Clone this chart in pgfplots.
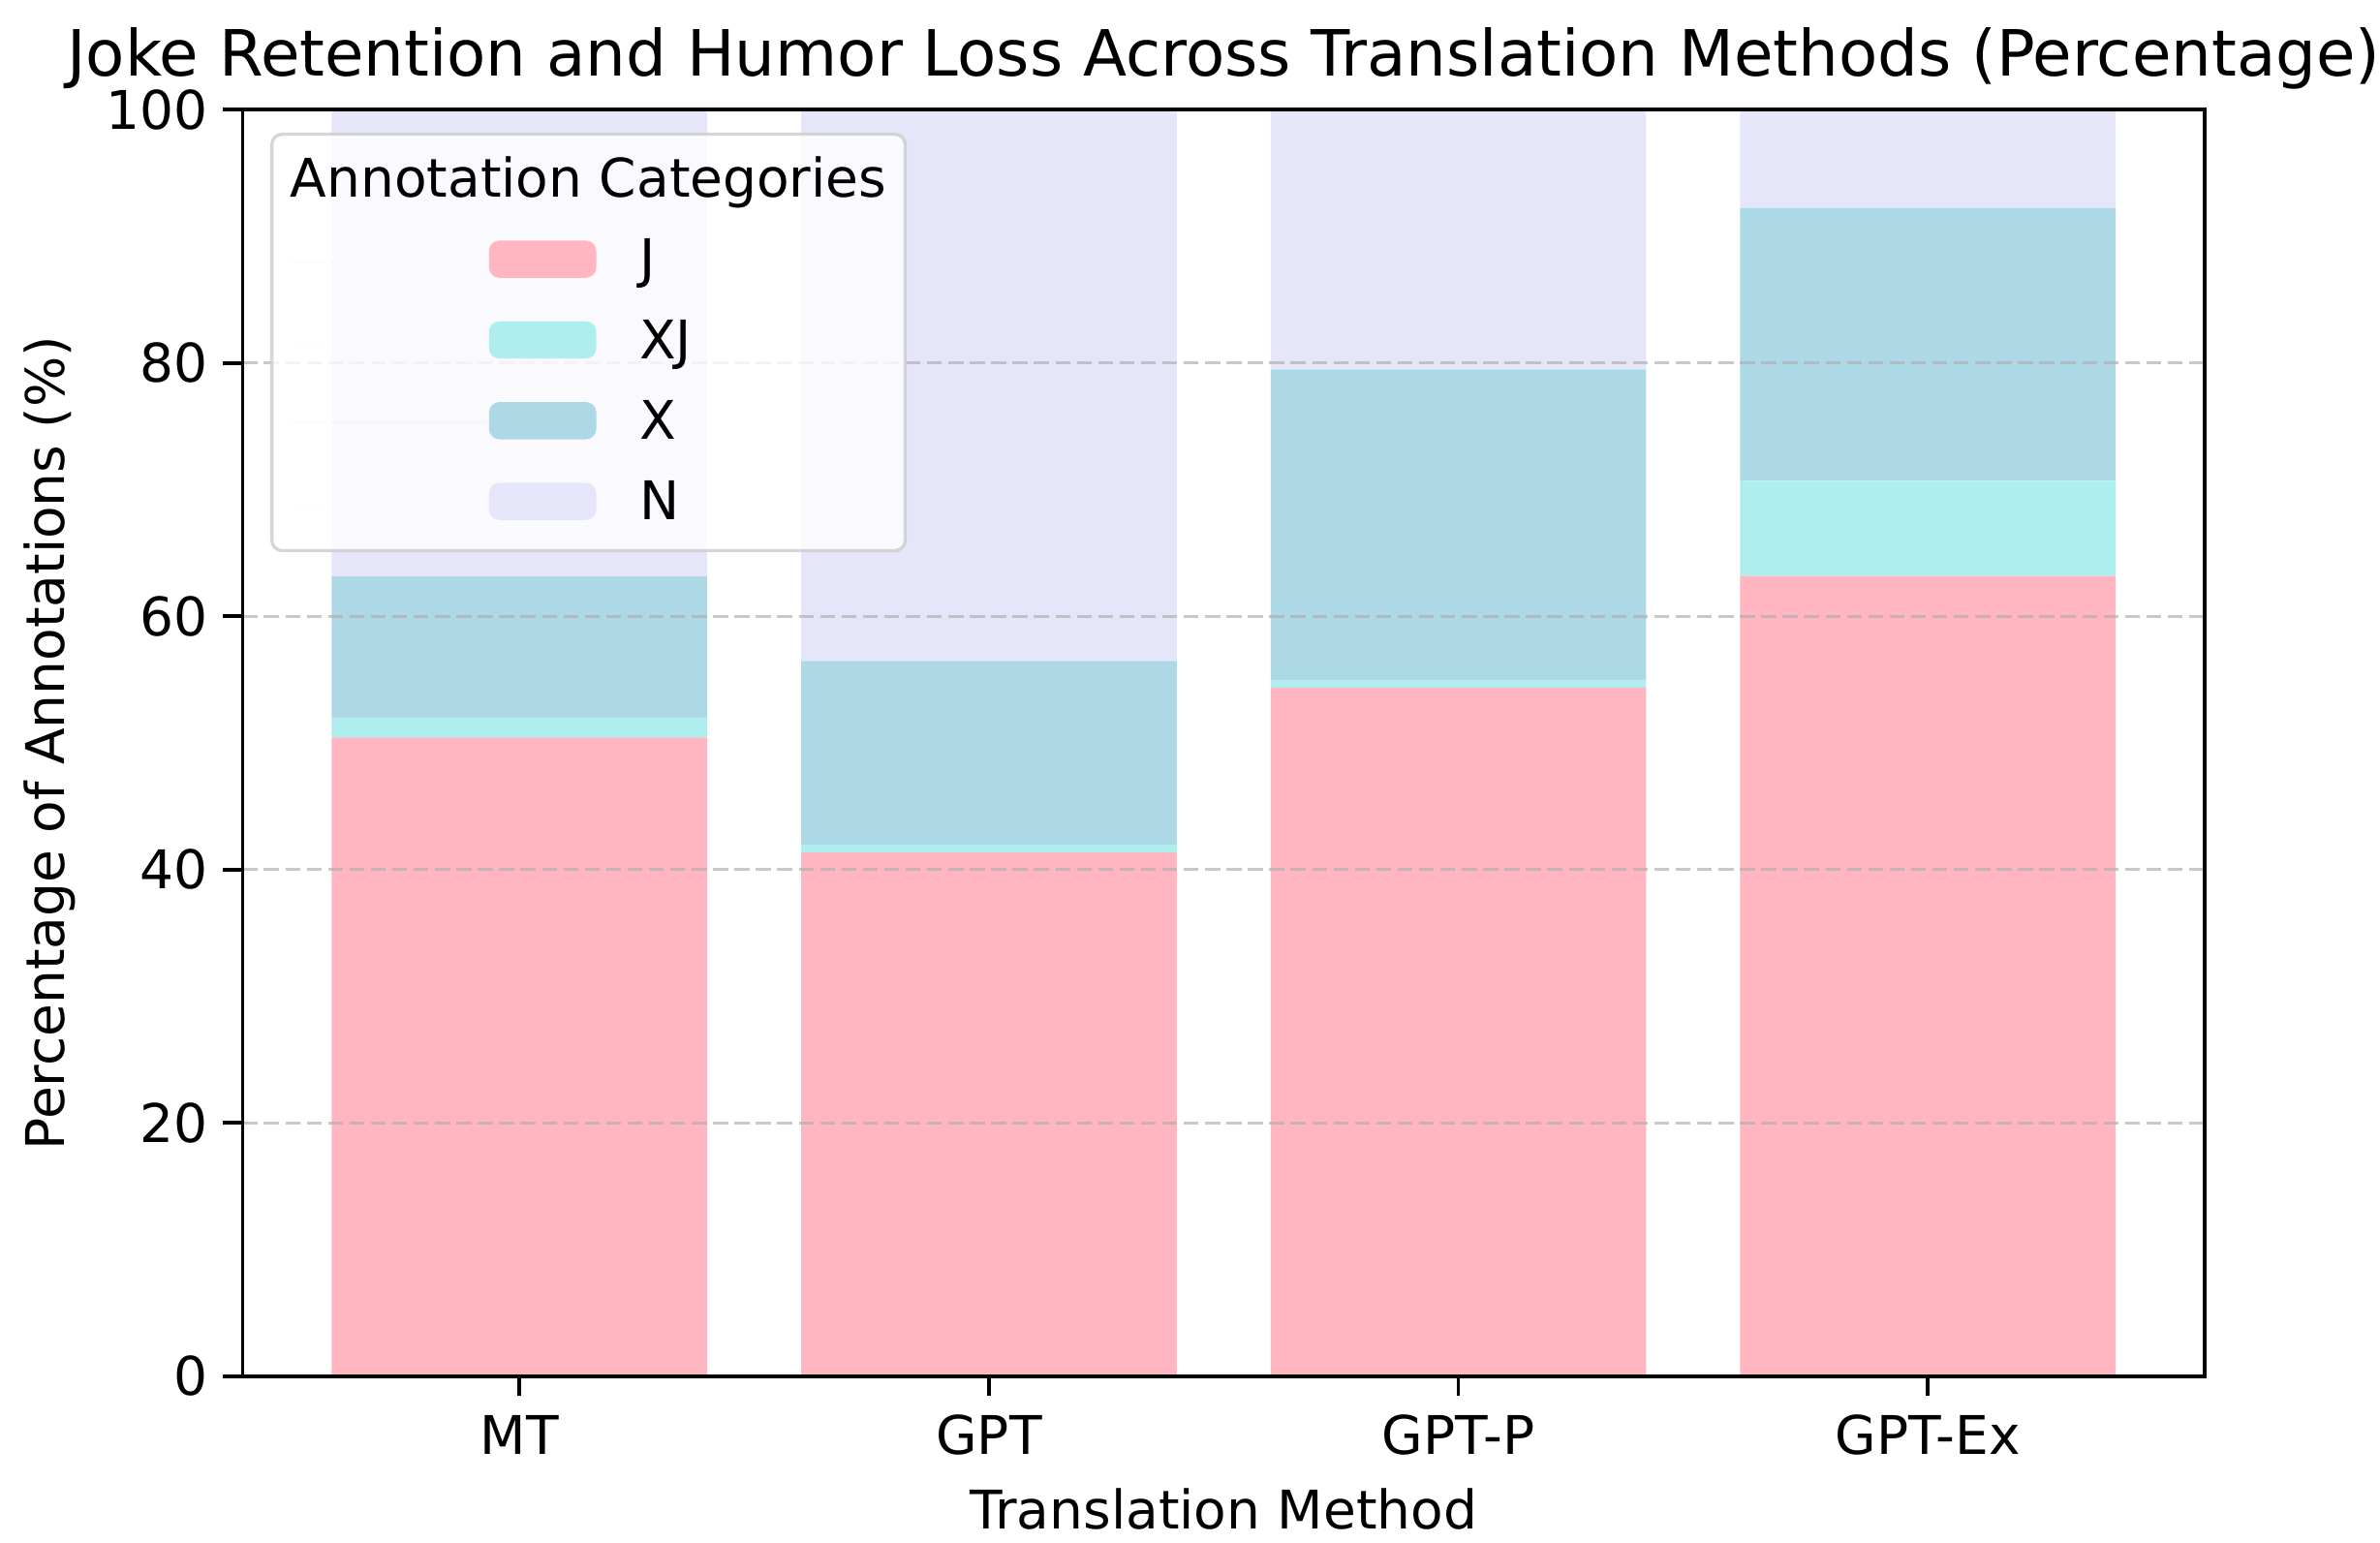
\documentclass[border=0pt]{standalone}
\usepackage{fontspec}
\setmainfont{DejaVu Sans}
\usepackage{pgfplots}
\pgfplotsset{compat=1.18}

\definecolor{cJ}{HTML}{FFB6C1}
\definecolor{cXJ}{HTML}{AFEEEE}
\definecolor{cX}{HTML}{ADD8E6}
\definecolor{cN}{HTML}{E6E6FA}
\definecolor{gridgray}{HTML}{B0B0B0}
\definecolor{legedge}{HTML}{CCCCCC}

\newcommand\fsmain{\fontsize{13.2}{15.8}\selectfont}
\newcommand\fstitle{\fontsize{15.8}{19}\selectfont}

\begin{document}
\begin{tikzpicture}
\begin{axis}[
    name=ax,
    scale only axis,
    width=486.2pt, height=313.8pt,
    ybar stacked, bar width=0.8, bar shift=0pt,
    xmin=-0.59, xmax=3.59, ymin=0, ymax=100,
    xtick={0,1,2,3}, xticklabels={MT,GPT,GPT-P,GPT-Ex},
    ytick={0,20,40,60,80,100},
    tick pos=left, tick align=outside,
    major tick length=4.8pt,
    tick style={black, line width=0.9pt},
    axis line style={black, line width=0.9pt},
    axis on top,
    ymajorgrids,
    major grid style={gridgray, opacity=0.7, line width=0.8pt, dash pattern=on 3.7pt off 1.6pt},
    ticklabel style={font=\fsmain, inner sep=0pt},
    /pgf/number format/assume math mode=true,
    xticklabel style={anchor=base, yshift=-14.6pt},
    yticklabel style={anchor=east, xshift=-3.6pt},
    title={Joke Retention and Humor Loss Across Translation Methods (Percentage)},
    title style={font=\fstitle, at={(axis description cs:0.5,1.0264)}, anchor=base, yshift=-6pt, inner sep=0pt},
    xlabel={Translation Method},
    xlabel style={font=\fsmain, at={(axis description cs:0.5,-0.1208)}, anchor=base, inner sep=0pt},
    ylabel={Percentage of Annotations (\%)},
    ylabel style={font=\fsmain, at={(axis description cs:-0.0909,0.5)}, rotate=0, anchor=base, inner sep=0pt},
    legend image code/.code={%
        \path (-49.2pt,0pt) -- (0pt,0pt);
        \fill[#1, draw=none, fill opacity=1] (0pt,-4pt) rectangle (26.6pt,5.24pt);
    },
    legend style={
        at={(axis description cs:0.0141,0.982)}, anchor=north west,
        draw=legedge, draw opacity=0.8, line width=0.8pt,
        fill=white, fill opacity=0.8, text opacity=1,
        rounded corners=2.6pt,
        inner xsep=4.6pt, inner ysep=5.6pt,
        column sep=10.7pt, row sep=8pt,
        font=\fsmain,
        cells={anchor=west},
        nodes={inner sep=0pt, text height=10pt, text depth=2pt},
    },
]
\addlegendimage{empty legend}
\addlegendentry{\hspace*{-86.5pt}Annotation Categories}

\addplot[fill=cJ, draw=none] coordinates {(0,50.44) (1,41.35) (2,54.36) (3,63.18)};
\addlegendentry{J}
\addplot[fill=cXJ, draw=none] coordinates {(0,1.53) (1,0.61) (2,0.59) (3,7.52)};
\addlegendentry{XJ}
\addplot[fill=cX, draw=none] coordinates {(0,11.18) (1,14.52) (2,24.55) (3,21.55)};
\addlegendentry{X}
\addplot[fill=cN, draw=none] coordinates {(0,36.85) (1,43.52) (2,20.50) (3,7.75)};
\addlegendentry{N}
\end{axis}
\pgfresetboundingbox
\path (ax.south west) ++(-60.1pt,-41.3pt) rectangle ++(589.7pt,382.3pt);
\end{tikzpicture}
\end{document}
